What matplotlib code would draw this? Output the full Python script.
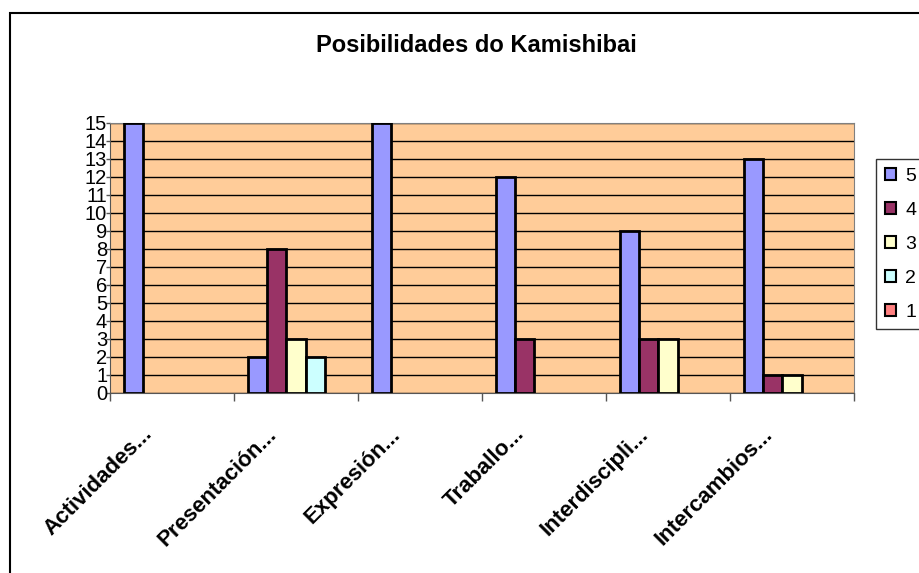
import matplotlib
matplotlib.use('Agg')
import matplotlib.pyplot as plt
from matplotlib.patches import Rectangle
from matplotlib.transforms import ScaledTranslation
import numpy as np

plt.rcParams['font.family'] = ['Liberation Sans', 'DejaVu Sans']

categories = ['Actividades...', 'Presentación...', 'Expresión...', 'Traballo...',
              'Interdiscipli...', 'Intercambios...']
series_names = ['5', '4', '3', '2', '1']
series_values = {
    '5': [15, 2, 15, 12, 9, 13],
    '4': [0, 8, 0, 3, 3, 1],
    '3': [0, 3, 0, 0, 3, 1],
    '2': [0, 2, 0, 0, 0, 0],
    '1': [0, 0, 0, 0, 0, 0],
}
series_colors = ['#9999FF', '#993366', '#FFFFCC', '#CCFFFF', '#FF8080']
yticks = list(range(0, 16))

W, H = 920, 573
fig = plt.figure(figsize=(W / 100, H / 100), dpi=100)
fig.patch.set_facecolor('white')

# outer chart border (only left/top visible in the reference)
fig.patches.append(Rectangle((10 / W, -0.05), 1.2, 1 - 13 / H + 0.05,
                             transform=fig.transFigure, fill=False,
                             edgecolor='black', linewidth=1.5))

ax = fig.add_axes([110 / W, 1 - 393 / H, (854 - 110) / W, (393 - 123) / H])
ax.set_facecolor('#FFCC99')

n = len(series_names)
bw = 1 / (n + 1.5)
x = np.arange(len(categories))
handles = []
for k, name in enumerate(series_names):
    vals = np.array(series_values[name])
    left = x + 0.75 * bw + k * bw
    show = vals > 0
    ax.bar(left[show], vals[show], width=bw, align='edge', color=series_colors[k],
           edgecolor='black', linewidth=2, zorder=3)
    handles.append(Rectangle((0, 0), 1, 1, facecolor=series_colors[k],
                             edgecolor='black', linewidth=1.5))

ax.set_xlim(0, len(categories))
ax.set_ylim(0, 15)
ax.set_yticks(yticks)
ax.set_yticklabels([str(v) for v in yticks], fontsize=14.5)
ax.yaxis.grid(True, color='black', linewidth=1, zorder=1)
ax.set_axisbelow(True)

ax.set_xticks(np.arange(len(categories) + 1))
ax.set_xticklabels([])
ax.tick_params(axis='x', which='major', length=6, width=1, direction='out', color='#555555')
ax.tick_params(axis='y', length=3, width=1, direction='out', pad=-1, color='#555555')

# category labels, rotated, ending a bit left of each category centre
shift = ScaledTranslation(-0.19, -0.42, fig.dpi_scale_trans)
for i, cat in enumerate(categories):
    ax.text(i + 0.5, 0, cat, transform=ax.get_xaxis_transform() + shift,
            rotation=45, rotation_mode='anchor', ha='right', va='baseline',
            fontsize=16, fontweight='bold', clip_on=False)

for side in ['top', 'right']:
    ax.spines[side].set_color('#808080')
ax.spines['left'].set_color('#555555')
ax.spines['bottom'].set_color('#555555')

fig.text(476 / W, 1 - 45 / H, 'Posibilidades do Kamishibai', ha='center', va='center',
         fontsize=17, fontweight='bold')

leg = fig.legend(handles=handles, labels=series_names, loc='upper left',
                 bbox_to_anchor=(876 / W, 1 - 159 / H), fontsize=14,
                 frameon=True, fancybox=False, edgecolor='black',
                 handlelength=0.6, handleheight=0.6, handletextpad=0.45,
                 labelspacing=0.87, borderpad=0.45, borderaxespad=0)
leg.get_frame().set_linewidth(1)

fig.savefig('out.png', dpi=100, facecolor='white')
